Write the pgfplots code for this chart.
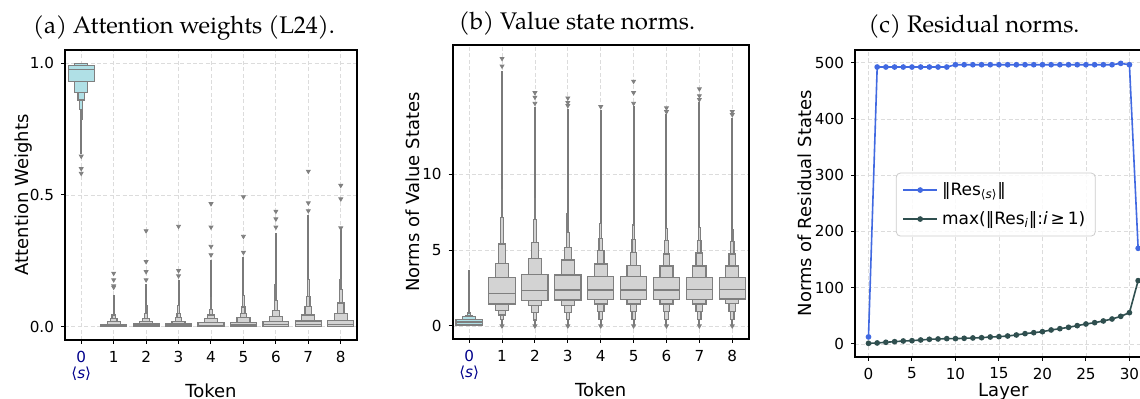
\documentclass[border=0pt]{standalone}
\usepackage{pgfplots}
\pgfplotsset{compat=1.18}
\usepackage{fontspec}
\setmainfont{DejaVu Sans}
\newfontfamily\titlefont{TeX Gyre Pagella}
\definecolor{boxg}{HTML}{D3D3D3}
\definecolor{edgeg}{HTML}{7F7F7F}
\definecolor{whisk}{HTML}{7A7A7A}
\definecolor{cyanf}{HTML}{B0E0E6}
\definecolor{gridc}{HTML}{DCDCDC}
\definecolor{tokblue}{HTML}{00008B}
\definecolor{resblue}{HTML}{4169E1}
\definecolor{resdark}{HTML}{2F4F4F}

\newcommand{\bxr}[5]{%
  \pgfmathsetmacro\xa{#2-#5}\pgfmathsetmacro\xb{#2+#5}%
  \edef\tmp{\noexpand\addplot[fill=#1, draw=edgeg, line width=0.6pt] coordinates {(\xa,#3) (\xb,#3) (\xb,#4) (\xa,#4)} -- cycle;}\tmp}
\newcommand{\medln}[2]{%
  \pgfmathsetmacro\xa{#1-0.4}\pgfmathsetmacro\xb{#1+0.4}%
  \edef\tmp{\noexpand\addplot[draw=edgeg, line width=0.6pt] coordinates {(\xa,#2) (\xb,#2)};}\tmp}
% color, center, median, list lo/hi/halfwidth
\newcommand{\boxen}[4]{\foreach \lo/\hi/\hw in {#4}{\bxr{#1}{#2}{\lo}{\hi}{\hw}}\medln{#2}{#3}}

\pgfplotsset{panel/.style={
  scale only axis, anchor=south west,
  axis line style={line width=0.9pt},
  grid=major, major grid style={dash pattern=on 2pt off 1.2pt, gridc, line width=0.4pt},
  tick align=outside, tick pos=left, major tick length=2pt,
  tick style={black, line width=0.5pt},
  ticklabel style={font=\fontsize{7.6}{8}\selectfont},
  label style={font=\fontsize{9}{10}\selectfont},
  /pgf/number format/assume math mode=true,
  clip=false},
  whiskline/.style={draw=whisk, line width=1pt},
  outl/.style={only marks, mark=triangle*, mark size=1.1pt, mark options={rotate=180, fill=gray, draw=gray}},
}

\begin{document}
\begin{tikzpicture}
% ---------------- (a) ----------------
\begin{axis}[panel, at={(32.5pt,29.5pt)}, width=146pt, height=145pt,
  xmin=-0.5, xmax=8.5, ymin=-0.05, ymax=1.05,
  xtick={0,...,8},
  xticklabels={{\textcolor{tokblue}{0}\\\textcolor{tokblue}{⟨\textit{s}⟩}},1,2,3,4,5,6,7,8},
  xticklabel style={align=center},
  ytick={0,0.5,1}, yticklabels={0.0,0.5,1.0},
  xlabel={Token}, ylabel={Attention Weights},
  xlabel style={at={(axis description cs:0.5,-0.1976)}, anchor=base},
  ylabel style={at={(axis description cs:-0.1257,0.5)}, anchor=base}]
\addplot[whiskline] coordinates {(0,0.655) (0,0.93)};
\addplot[whiskline] coordinates {(1,0.045) (1,0.12)};
\addplot[whiskline] coordinates {(2,0.05) (2,0.162)};
\addplot[whiskline] coordinates {(3,0.05) (3,0.178)};
\addplot[whiskline] coordinates {(4,0.066) (4,0.254)};
\addplot[whiskline] coordinates {(5,0.075) (5,0.264)};
\addplot[whiskline] coordinates {(6,0.10) (6,0.355)};
\addplot[whiskline] coordinates {(7,0.115) (7,0.425)};
\addplot[whiskline] coordinates {(8,0.14) (8,0.375)};
\boxen{cyanf}{0}{0.975}{0.930/0.990/0.4, 0.990/0.998/0.2, 0.998/1.0/0.1, 0.888/0.930/0.2, 0.860/0.888/0.1, 0.825/0.860/0.05, 0.787/0.825/0.025}
\boxen{boxg}{1}{0.004}{0.0/0.010/0.4, 0.010/0.019/0.2, 0.019/0.030/0.1, 0.030/0.045/0.05}
\boxen{boxg}{2}{0.004}{0.0/0.011/0.4, 0.011/0.020/0.2, 0.020/0.033/0.1, 0.033/0.050/0.05, 0.050/0.080/0.025}
\boxen{boxg}{3}{0.004}{0.0/0.011/0.4, 0.011/0.021/0.2, 0.021/0.034/0.1, 0.034/0.050/0.05, 0.050/0.080/0.025}
\boxen{boxg}{4}{0.006}{0.0/0.015/0.4, 0.015/0.030/0.2, 0.030/0.045/0.1, 0.045/0.066/0.05, 0.066/0.110/0.025}
\boxen{boxg}{5}{0.007}{0.0/0.017/0.4, 0.017/0.035/0.2, 0.035/0.050/0.1, 0.050/0.075/0.05, 0.075/0.120/0.025}
\boxen{boxg}{6}{0.008}{0.0/0.020/0.4, 0.020/0.040/0.2, 0.040/0.063/0.1, 0.063/0.100/0.05, 0.100/0.160/0.025}
\boxen{boxg}{7}{0.009}{0.0/0.022/0.4, 0.022/0.045/0.2, 0.045/0.077/0.1, 0.077/0.115/0.05, 0.115/0.178/0.025}
\boxen{boxg}{8}{0.010}{0.0/0.025/0.4, 0.025/0.050/0.2, 0.050/0.090/0.1, 0.090/0.140/0.05, 0.140/0.180/0.025}
\addplot[outl] coordinates {
 (0,0.647) (0,0.600) (0,0.582)
 (1,0.150) (1,0.155) (1,0.178) (1,0.203)
 (2,0.178) (2,0.209) (2,0.247) (2,0.364)
 (3,0.193) (3,0.213) (3,0.381)
 (4,0.273) (4,0.305) (4,0.378) (4,0.467)
 (5,0.282) (5,0.343) (5,0.493)
 (6,0.378) (6,0.409) (6,0.438)
 (7,0.440) (7,0.470) (7,0.590)
 (8,0.375) (8,0.485) (8,0.536)};
\end{axis}
% ---------------- (b) ----------------
\begin{axis}[panel, at={(226.35pt,30pt)}, width=148pt, height=147pt,
  xmin=-0.5, xmax=8.5, ymin=-0.855, ymax=18.49,
  xtick={0,...,8},
  xticklabels={{\textcolor{tokblue}{0}\\\textcolor{tokblue}{⟨\textit{s}⟩}},1,2,3,4,5,6,7,8},
  xticklabel style={align=center},
  ytick={0,5,10},
  xlabel={Token}, ylabel={Norms of Value States},
  xlabel style={at={(axis description cs:0.5,-0.1963)}, anchor=base},
  ylabel style={at={(axis description cs:-0.1105,0.5)}, anchor=base}]
\addplot[whiskline] coordinates {(0,0.0) (0,3.68)};
\addplot[whiskline] coordinates {(1,0.05) (1,16.8)};
\addplot[whiskline] coordinates {(2,0.05) (2,14.4)};
\addplot[whiskline] coordinates {(3,0.05) (3,14.25)};
\addplot[whiskline] coordinates {(4,0.05) (4,14.2)};
\addplot[whiskline] coordinates {(5,0.05) (5,14.47)};
\addplot[whiskline] coordinates {(6,0.05) (6,13.93)};
\addplot[whiskline] coordinates {(7,0.05) (7,14.76)};
\addplot[whiskline] coordinates {(8,0.05) (8,13.66)};
\boxen{cyanf}{0}{0.26}{0.07/0.44/0.4, 0.44/0.61/0.2, 0.61/0.70/0.1, 0.70/0.85/0.05, 0.02/0.07/0.2}
\boxen{boxg}{1}{2.15}{1.45/3.2/0.4, 3.2/4.12/0.2, 4.12/5.4/0.1, 5.4/7.15/0.05, 7.15/9.0/0.025, 1.0/1.45/0.2, 0.72/1.0/0.1, 0.44/0.72/0.05}
\boxen{boxg}{2}{2.35}{1.67/3.4/0.4, 3.4/4.45/0.2, 4.45/5.5/0.1, 5.5/7.0/0.05, 7.0/8.4/0.025, 1.34/1.67/0.2, 0.88/1.34/0.1, 0.4/0.88/0.05}
\boxen{boxg}{3}{2.37}{1.71/3.36/0.4, 3.36/4.34/0.2, 4.34/5.18/0.1, 5.18/6.14/0.05, 6.14/7.4/0.025, 1.34/1.71/0.2, 0.88/1.34/0.1, 0.45/0.88/0.05}
\boxen{boxg}{4}{2.37}{1.75/3.24/0.4, 3.24/4.08/0.2, 4.08/4.95/0.1, 4.95/5.77/0.05, 5.77/6.75/0.025, 1.45/1.75/0.2, 0.95/1.45/0.1, 0.45/0.95/0.05}
\boxen{boxg}{5}{2.37}{1.75/3.24/0.4, 3.24/4.0/0.2, 4.0/4.82/0.1, 4.82/5.7/0.05, 5.7/6.65/0.025, 1.45/1.75/0.2, 0.95/1.45/0.1, 0.45/0.95/0.05}
\boxen{boxg}{6}{2.37}{1.75/3.2/0.4, 3.2/3.95/0.2, 3.95/4.74/0.1, 4.74/5.6/0.05, 5.6/6.43/0.025, 1.45/1.75/0.2, 0.95/1.45/0.1, 0.45/0.95/0.05}
\boxen{boxg}{7}{2.40}{1.75/3.2/0.4, 3.2/3.95/0.2, 3.95/4.8/0.1, 4.8/5.65/0.05, 5.65/6.5/0.025, 1.45/1.75/0.2, 0.95/1.45/0.1, 0.45/0.95/0.05}
\boxen{boxg}{8}{2.40}{1.78/3.2/0.4, 3.2/3.95/0.2, 3.95/4.74/0.1, 4.74/5.55/0.05, 5.55/6.35/0.025, 1.48/1.78/0.2, 0.95/1.48/0.1, 0.45/0.95/0.05}
\addplot[outl] coordinates {
 (1,17.1) (1,17.6) (1,0.0)
 (2,14.65) (2,15.05) (2,15.35) (2,0.0)
 (3,14.5) (3,14.7) (3,15.0) (3,0.0)
 (4,14.43) (4,0.0)
 (5,14.65) (5,15.35) (5,16.1) (5,0.0)
 (6,14.1) (6,14.35) (6,0.0)
 (7,14.9) (7,15.15) (7,15.6) (7,0.0)
 (8,13.9) (8,14.1) (8,0.0)};
\end{axis}
% ---------------- (c) ----------------
\begin{axis}[panel, at={(427.5pt,21.15pt)}, width=148.3pt, height=153.35pt,
  xmin=-1.55, xmax=32.55, ymin=-22.6, ymax=522.6,
  xtick={0,5,...,30}, ytick={0,100,...,500},
  xlabel={Layer}, ylabel={Norms of Residual States},
  xlabel style={at={(axis description cs:0.5,-0.1304)}, anchor=base},
  ylabel style={at={(axis description cs:-0.146,0.5)}, anchor=base},
  legend style={at={(0.138,0.6)}, anchor=north west, draw=gray!40, rounded corners=2pt,
    fill=white, fill opacity=0.85, text opacity=1, font=\fontsize{8.5}{9.5}\selectfont,
    row sep=2.5pt, inner xsep=3pt, inner ysep=2.5pt},
  legend cell align=left]
\addplot[resblue, line width=0.8pt, mark=*, mark size=1pt] coordinates {
 (0,12.5) (1,492.3) (2,492.3) (3,492.3) (4,492.3) (5,492.3) (6,492.3) (7,492.3) (8,492.3) (9,492.3)
 (10,496.4) (11,496.4) (12,496.4) (13,496.4) (14,496.4) (15,496.4) (16,496.4) (17,496.4) (18,496.4) (19,496.4)
 (20,496.4) (21,496.4) (22,496.4) (23,496.4) (24,496.4) (25,496.4) (26,496.4) (27,496.4) (28,496.4)
 (29,498.8) (30,496.4) (31,170.0)};
\addlegendentry{‖Res\textsubscript{⟨\textit{s}⟩}‖}
\addplot[resdark, line width=0.8pt, mark=*, mark size=1pt] coordinates {
 (0,1.2) (1,1.8) (2,3.0) (3,4.1) (4,5.3) (5,5.9) (6,7.1) (7,8.3) (8,8.9) (9,9.5)
 (10,9.5) (11,10.1) (12,10.7) (13,11.2) (14,12.4) (15,13.0) (16,14.2) (17,16.0) (18,18.4) (19,20.1)
 (20,21.9) (21,24.9) (22,27.2) (23,29.6) (24,32.6) (25,35.5) (26,37.9) (27,40.9) (28,44.4) (29,49.1)
 (30,55.7) (31,112.6)};
\addlegendentry{max(‖Res\textsubscript{\textit{i}}‖:\textit{i}\,≥\,1)}
\end{axis}
% titles
\node[font=\titlefont\fontsize{12}{14}\selectfont, anchor=base] at (92pt,182.5pt) {(a) Attention weights (L24).};
\node[font=\titlefont\fontsize{12}{14}\selectfont, anchor=base] at (288.5pt,184.5pt) {(b) Value state norms.};
\node[font=\titlefont\fontsize{12}{14}\selectfont, anchor=base] at (487pt,183pt) {(c) Residual norms.};
\pgfresetboundingbox
\path[use as bounding box] (0,0) rectangle (570pt,199.5pt);
\end{tikzpicture}
\end{document}
